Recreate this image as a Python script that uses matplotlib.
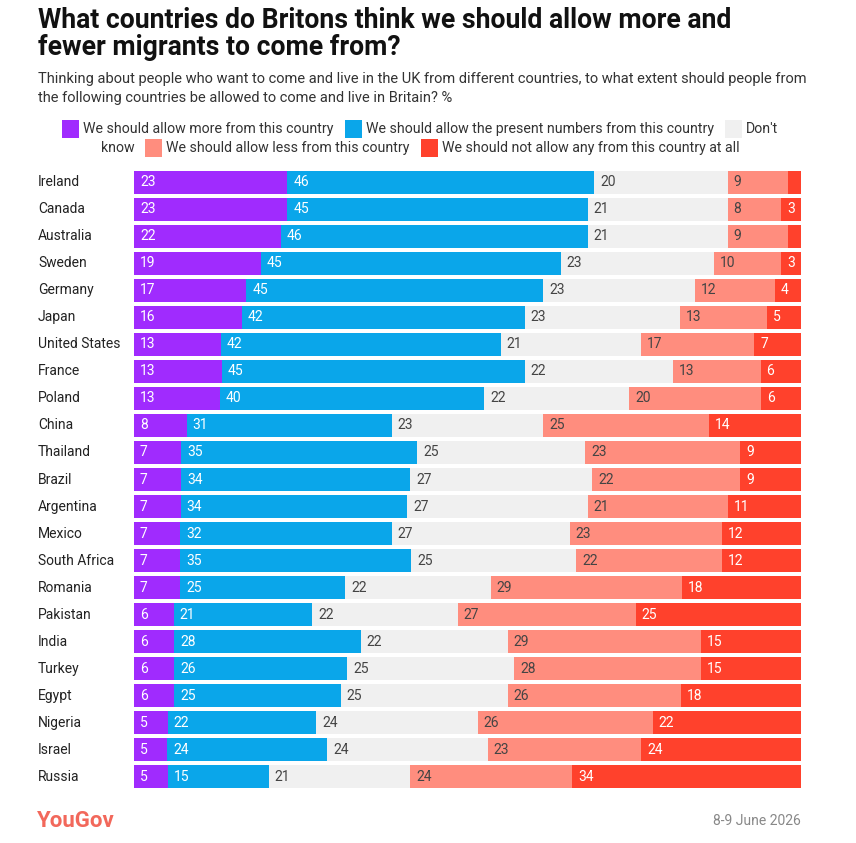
import matplotlib
matplotlib.use("Agg")
import matplotlib.pyplot as plt
from matplotlib.patches import Rectangle
import numpy as np

countries = ["Ireland", "Canada", "Australia", "Sweden", "Germany", "Japan",
             "United States", "France", "Poland", "China", "Thailand", "Brazil",
             "Argentina", "Mexico", "South Africa", "Romania", "Pakistan", "India",
             "Turkey", "Egypt", "Nigeria", "Israel", "Russia"]
more = [23, 23, 22, 19, 17, 16, 13, 13, 13, 8, 7, 7, 7, 7, 7, 7, 6, 6, 6, 6, 5, 5, 5]
present = [46, 45, 46, 45, 45, 42, 42, 45, 40, 31, 35, 34, 34, 32, 35, 25, 21, 28, 26, 25, 22, 24, 15]
dont_know = [20, 21, 21, 23, 23, 23, 21, 22, 22, 23, 25, 27, 27, 27, 25, 22, 22, 22, 25, 25, 24, 24, 21]
less = [9, 8, 9, 10, 12, 13, 17, 13, 20, 25, 23, 22, 21, 23, 22, 29, 27, 29, 28, 26, 26, 23, 24]
none = [2, 3, 2, 3, 4, 5, 7, 6, 6, 14, 9, 9, 11, 12, 12, 18, 25, 15, 15, 18, 22, 24, 34]

series_names = ["We should allow more from this country",
                "We should allow the present numbers from this country",
                "Don't know",
                "We should allow less from this country",
                "We should not allow any from this country at all"]
colors = ["#A02BFE", "#0AA6EA", "#F0F0F0", "#FF8D7E", "#FF412C"]
text_colors = ["white", "white", "#444444", "#444444", "white"]

FONT = ["Roboto", "DejaVu Sans"]
plt.rcParams["font.family"] = FONT

W, H = 856, 843
fig = plt.figure(figsize=(W / 100, H / 100), dpi=100)

def fx(px):
    return px / W

def fy(py):
    return 1 - py / H

ax = fig.add_axes([fx(134), fy(788), fx(801) - fx(134), fy(171) - fy(788)])

data = np.array([more, present, dont_know, less, none], dtype=float)
totals = data.sum(axis=0)
norm = data / totals * 100
n = len(countries)
y = np.arange(n)
h = 0.85
left = np.zeros(n)
for i in range(5):
    ax.barh(y, norm[i], left=left, height=h, color=colors[i], edgecolor="none")
    for j in range(n):
        if data[i, j] >= 3:
            ax.annotate(f"{int(data[i, j])}", xy=(left[j], y[j]), xytext=(4.3, 0),
                        textcoords="offset points", ha="left", va="center",
                        fontsize=10, color=text_colors[i], family=FONT)
    left += norm[i]

ax.set_xlim(0, 100)
ax.set_ylim(n - 1 + h / 2, -h / 2)
ax.axis("off")

for j, c in enumerate(countries):
    ax.annotate(c, xy=(0, y[j]), xycoords=("axes fraction", "data"),
                xytext=(38 - 134, 0), textcoords="offset pixels",
                ha="left", va="center", fontsize=10, color="#222222", family=FONT)

# Title and subtitle
fig.text(fx(38), fy(7), "What countries do Britons think we should allow more and\nfewer migrants to come from?",
         ha="left", va="top", fontsize=19.2, fontweight="bold", color="#111111",
         linespacing=1.0, family=FONT)
fig.text(fx(38), fy(72), "Thinking about people who want to come and live in the UK from different countries, to what extent should people from\nthe following countries be allowed to come and live in Britain? %",
         ha="left", va="top", fontsize=10.5, color="#333333", linespacing=1.45, family=FONT)

# Legend (flowing layout, two lines)
fig.canvas.draw()
renderer = fig.canvas.get_renderer()
sq = 17
gap_after_sq = 4
gap_between = 11
leg_fs = 10.2
line1 = [("sq", 0), ("txt", series_names[0]), ("sq", 1), ("txt", series_names[1]), ("sq", 2), ("txt", "Don't")]
line2 = [("txt", "know"), ("sq", 3), ("txt", series_names[3]), ("sq", 4), ("txt", series_names[4])]

def measure(s):
    t = fig.text(0, 0, s, fontsize=leg_fs, family=FONT)
    bb = t.get_window_extent(renderer=renderer)
    t.remove()
    return bb.width

def layout(items, cy, center):
    widths = []
    for kind, v in items:
        widths.append(sq if kind == "sq" else measure(v))
    total = 0
    for k, (kind, v) in enumerate(items):
        total += widths[k]
        if k < len(items) - 1:
            total += gap_after_sq if kind == "sq" else gap_between
    x = center - total / 2
    for k, (kind, v) in enumerate(items):
        if kind == "sq":
            fig.patches.append(Rectangle((fx(x), fy(cy + sq / 2)), fx(sq), sq / H,
                                         transform=fig.transFigure, facecolor=colors[v],
                                         edgecolor="none"))
            x += sq + gap_after_sq
        else:
            fig.text(fx(x), fy(cy), v, ha="left", va="center", fontsize=leg_fs,
                     color="#333333", family=FONT)
            x += widths[k] + gap_between

layout(line1, 129, 420)
layout(line2, 148, 420)

# Footer
fig.text(fx(37), fy(821), "YouGov", ha="left", va="center", fontsize=16, fontweight="bold",
         color="#F2685B", family=FONT)
fig.text(fx(801), fy(821), "8-9 June 2026", ha="right", va="center", fontsize=10,
         color="#888888", family=FONT)

fig.savefig("out.png", dpi=100)
